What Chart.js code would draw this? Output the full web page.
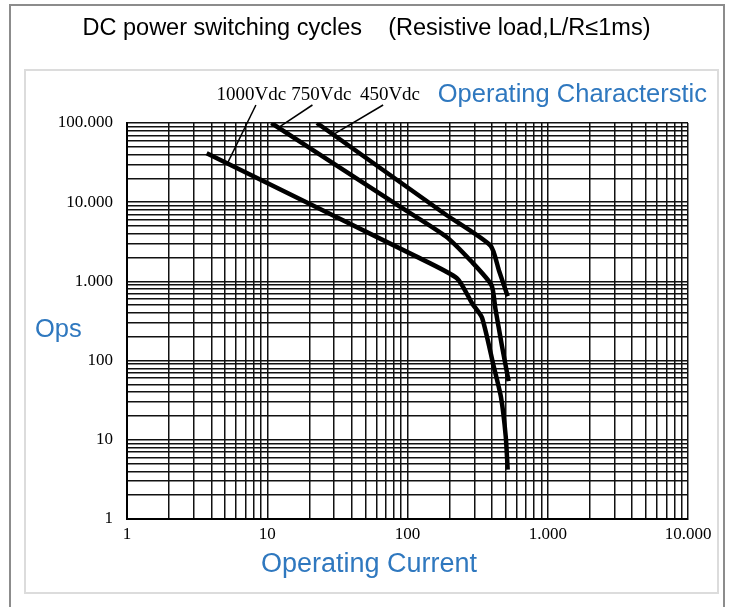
<!DOCTYPE html>
<html lang="en">
<head>
<meta charset="UTF-8">
<title>DC power switching cycles</title>
<script src="https://cdn.jsdelivr.net/npm/chart.js@4"></script>
<style>
  body { margin: 0; background: #fff; }
  #wrap { width: 733px; height: 607px; }
</style>
</head>
<body>
<div id="wrap"><canvas id="chartCycles" width="733" height="607"></canvas></div>
<script>
// operating current (A) vs. operations
const curveNames = ['1000Vdc', '750Vdc', '450Vdc'];
const current1000 = [3.7, 117, 226, 290, 340, 409, 464, 502, 518];
const ops1000 = [41600, 2040, 1090, 522, 348, 89, 34.5, 10.9, 4.2];
const current750 = [10.7, 85, 187, 286, 397, 423, 471, 526];
const ops750 = [100000, 9200, 3720, 1780, 897, 456, 155, 55];
const current450 = [22.6, 187, 391, 450, 518];
const ops450 = [100000, 7000, 2830, 1350, 650];

const xTickLabels = ['1', '10', '100', '1.000', '10.000'];
const yTickLabels = ['1', '10', '100', '1.000', '10.000', '100.000'];

const BLUE = '#2f78bf';
const SANS = '"Liberation Sans", Arial, sans-serif';
const SERIF = '"Liberation Serif", "DejaVu Serif", serif';

function points(xs, ys) {
  return xs.map((x, i) => ({ x: x, y: ys[i] }));
}

// grid line at 1..9 of every decade
function decadeTicks(scale) {
  const ticks = [];
  const lo = Math.round(Math.log10(scale.min));
  const hi = Math.round(Math.log10(scale.max));
  for (let e = lo; e < hi; e++) {
    for (let m = 1; m < 10; m++) ticks.push({ value: m * Math.pow(10, e) });
  }
  ticks.push({ value: Math.pow(10, hi) });
  scale.ticks = ticks;
}

function decadeLabel(labels) {
  return function (value) {
    const e = Math.log10(value);
    return Math.abs(e - Math.round(e)) < 1e-9 ? labels[Math.round(e)] : '';
  };
}

// y on a series at a given x (log-log interpolation)
function opsAt(data, x) {
  for (let i = 0; i < data.length - 1; i++) {
    const a = data[i], b = data[i + 1];
    if (x >= a.x && x <= b.x) {
      const t = (Math.log10(x) - Math.log10(a.x)) / (Math.log10(b.x) - Math.log10(a.x));
      return Math.pow(10, Math.log10(a.y) + t * (Math.log10(b.y) - Math.log10(a.y)));
    }
  }
  return data[0].y;
}

// curve labels with their leader lines
const leaders = [
  { series: 0, textAt: 7.7, topAt: 8.3, curveAt: 5.2 },
  { series: 1, textAt: 24.3, topAt: 21, curveAt: 12 },
  { series: 2, textAt: 75, topAt: 67, curveAt: 29.5 }
];

const decorations = {
  id: 'decorations',
  beforeDraw(chart) {
    const ctx = chart.ctx;
    ctx.save();
    ctx.fillStyle = '#fff';
    ctx.fillRect(0, 0, chart.width, chart.height);
    // outer frame
    ctx.strokeStyle = '#8c8c8c';
    ctx.lineWidth = 2;
    ctx.beginPath();
    ctx.moveTo(10, chart.height);
    ctx.lineTo(10, 5);
    ctx.lineTo(724, 5);
    ctx.lineTo(724, chart.height);
    ctx.stroke();
    // inner panel
    ctx.strokeStyle = '#dcdcdc';
    ctx.lineWidth = 2;
    ctx.strokeRect(25, 70, 693, 523);
    ctx.restore();
  },
  afterDraw(chart) {
    const ctx = chart.ctx;
    const xs = chart.scales.x, ys = chart.scales.y;
    const top = chart.chartArea.top;
    ctx.save();
    ctx.fillStyle = BLUE;
    ctx.textBaseline = 'middle';
    ctx.textAlign = 'right';
    ctx.font = '25.5px ' + SANS;
    ctx.fillText('Operating Characterstic', 707, top - 28);
    ctx.textAlign = 'left';
    ctx.fillText('Ops', 35, 330);
    ctx.textAlign = 'center';
    ctx.font = '27px ' + SANS;
    ctx.fillText('Operating Current', 369, 565);

    ctx.fillStyle = '#000';
    ctx.strokeStyle = '#000';
    ctx.lineWidth = 1.5;
    ctx.font = '19px ' + SERIF;
    leaders.forEach(l => {
      const data = chart.data.datasets[l.series].data;
      ctx.fillText(curveNames[l.series], xs.getPixelForValue(l.textAt), top - 28);
      ctx.beginPath();
      ctx.moveTo(xs.getPixelForValue(l.topAt), top - 18);
      ctx.lineTo(xs.getPixelForValue(l.curveAt), ys.getPixelForValue(opsAt(data, l.curveAt)));
      ctx.stroke();
    });
    ctx.restore();
  }
};

const lineStyle = {
  borderColor: '#000',
  borderWidth: 4.5,
  pointRadius: 0,
  showLine: true,
  tension: 0.2,
  borderCapStyle: 'butt',
  borderJoinStyle: 'round'
};

new Chart(document.getElementById('chartCycles'), {
  type: 'scatter',
  data: {
    datasets: [
      { label: curveNames[0], data: points(current1000, ops1000), ...lineStyle },
      { label: curveNames[1], data: points(current750, ops750), ...lineStyle },
      { label: curveNames[2], data: points(current450, ops450), ...lineStyle }
    ]
  },
  options: {
    responsive: false,
    animation: false,
    layout: { padding: { left: 45, right: 45, top: 0, bottom: 0 } },
    plugins: {
      legend: { display: false },
      tooltip: { enabled: false },
      title: {
        display: true,
        text: 'DC power switching cycles    (Resistive load,L/R\u22641ms)',
        color: '#000',
        font: { family: SANS, size: 23.5, weight: 'normal' },
        padding: { top: 14, bottom: 80.8 }
      }
    },
    scales: {
      x: {
        type: 'logarithmic',
        min: 1,
        max: 10000,
        afterBuildTicks: decadeTicks,
        afterFit: s => { s.height = 88; },
        grid: { color: '#111', lineWidth: 1.5, drawTicks: false },
        border: { color: '#000', width: 2 },
        ticks: {
          autoSkip: false,
          maxRotation: 0,
          padding: 5,
          color: '#000',
          font: { family: SERIF, size: 17 },
          callback: decadeLabel(xTickLabels)
        }
      },
      y: {
        type: 'logarithmic',
        min: 1,
        max: 100000,
        afterBuildTicks: decadeTicks,
        afterFit: s => { s.width = 82; },
        grid: { color: '#111', lineWidth: 1.5, drawTicks: false },
        border: { color: '#000', width: 2 },
        ticks: {
          autoSkip: false,
          padding: 14,
          color: '#000',
          font: { family: SERIF, size: 17 },
          callback: decadeLabel(yTickLabels)
        }
      }
    }
  },
  plugins: [decorations]
});
</script>
</body>
</html>
